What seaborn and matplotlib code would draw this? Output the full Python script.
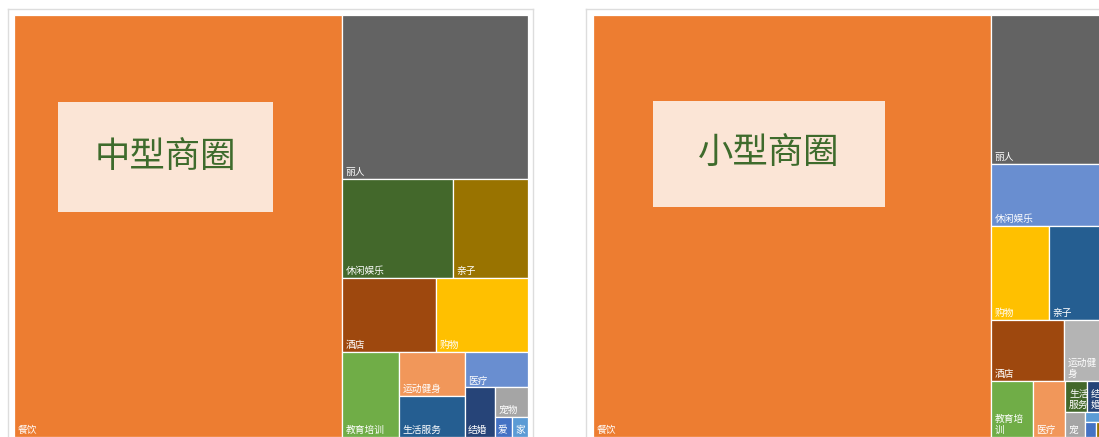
import matplotlib
matplotlib.use("Agg")
import matplotlib.pyplot as plt
from matplotlib.patches import Rectangle
import seaborn as sns

# 中型商圈: share of shops per category (%)
mid_labels = ["餐饮", "丽人", "休闲娱乐", "亲子", "酒店", "购物", "教育培训",
              "运动健身", "生活服务", "医疗", "结婚", "宠物", "爱\n车", "家\n装"]
mid_values = [62.7, 13.8, 4.9, 3.35, 3.12, 3.08, 2.18, 1.33, 1.21, 1.03, 0.67, 0.44, 0.16, 0.15]
mid_colors = ["#ED7D31", "#636363", "#43682B", "#997300", "#9E480E", "#FFC000", "#70AD47",
              "#F1975A", "#255E91", "#698ED0", "#264478", "#A5A5A5", "#4472C4", "#5B9BD5"]

# 小型商圈
small_labels = ["餐饮", "丽人", "休闲娱乐", "购物", "亲子", "酒店", "运动健\n身", "教育培\n训",
                "医疗", "生活\n服务", "结\n婚", "宠\n物", "家\n装", "爱\n车", "其他"]
small_values = [77.34, 7.95, 3.36, 2.50, 2.50, 2.03, 1.21, 1.09, 0.85, 0.31, 0.29, 0.22, 0.10, 0.08, 0.08]
small_colors = ["#ED7D31", "#636363", "#698ED0", "#FFC000", "#255E91", "#9E480E", "#B4B4B4", "#70AD47",
                "#F1975A", "#43682B", "#264478", "#A5A5A5", "#5B9BD5", "#4472C4", "#997300"]


def worst(row, side):
    s = sum(row)
    return max(max(side * side * r / (s * s), (s * s) / (side * side * r)) for r in row)


def squarify(values):
    # layout in the unit square, stretched to the plot area afterwards
    total = sum(values)
    vals = [v / total for v in values]
    x, y, w, h = 0.0, 0.0, 1.0, 1.0
    rects = []
    while vals:
        side = min(w, h)
        row = [vals[0]]
        i = 1
        while i < len(vals) and worst(row + [vals[i]], side) <= worst(row, side):
            row.append(vals[i])
            i += 1
        s = sum(row)
        if w >= h:
            cw = s / h
            yy = y
            for v in row:
                rects.append((x, yy, cw, v / cw))
                yy += v / cw
            x += cw
            w -= cw
        else:
            rh = s / w
            xx = x
            for v in row:
                rects.append((xx, y, v / rh, rh))
                xx += v / rh
            y += rh
            h -= rh
        vals = vals[i:]
    return rects


def fit_label(text, w, h):
    # drop lines that don't fit the box height (like Excel does)
    if h < 12 or w < 12:
        return ""
    lines = text.split("\n")
    max_lines = max(1, int((h - 4) / 12))
    return "\n".join(lines[:max_lines])


def draw_treemap(ax, labels, values, colors, W=514, H=422):
    rects = [(x * W, y * H, w * W, h * H) for x, y, w, h in squarify(values)]
    xs = [r[0] for r in rects]
    ys = [r[1] for r in rects]
    ws = [r[2] for r in rects]
    hs = [r[3] for r in rects]
    ax.bar(xs, hs, width=ws, bottom=ys, align="edge", color=colors,
           edgecolor="white", linewidth=0.9)
    for lab, (x, y, w, h) in zip(labels, rects):
        txt = fit_label(lab, w, h)
        if txt:
            ax.text(x + 3.5, y + h - 2, txt, ha="left", va="bottom", color="white",
                    fontsize=7, linespacing=1.1, clip_on=True)
    ax.set_xlim(0, W)
    ax.set_ylim(H, 0)
    ax.axis("off")


sns.set_theme(style="white")
plt.rcParams["font.family"] = ["Noto Sans CJK SC", "DejaVu Sans"]

FW, FH = 1099, 437
fig = plt.figure(figsize=(FW / 100, FH / 100), dpi=100)
fig.patch.set_facecolor("white")

panels = [
    (8, 14, "中型商圈", mid_labels, mid_values, mid_colors, (44, 87, 215, 110)),
    (586, 593, "小型商圈", small_labels, small_values, small_colors, (60, 86, 232, 106)),
]
for frame_x, inner_x, title, labels, values, colors, box in panels:
    frame = fig.add_axes([frame_x / FW, -10 / FH, 525 / FW, (FH - 9 + 10) / FH])
    frame.set_xticks([])
    frame.set_yticks([])
    for sp in frame.spines.values():
        sp.set_color("#DDDDDD")
        sp.set_linewidth(1.0)
    frame.set_facecolor("white")

    ax = fig.add_axes([inner_x / FW, 0, 514 / FW, 422 / FH])
    draw_treemap(ax, labels, values, colors)
    bx, by, bw, bh = box
    ax.add_patch(Rectangle((bx, by), bw, bh, facecolor="#FBE5D6", edgecolor="none", zorder=5))
    ax.text(bx + bw / 2, by + bh / 2, title, ha="center", va="center",
            fontsize=25.5, color="#3E6B2C", zorder=6)

fig.savefig("out.png", dpi=100)
